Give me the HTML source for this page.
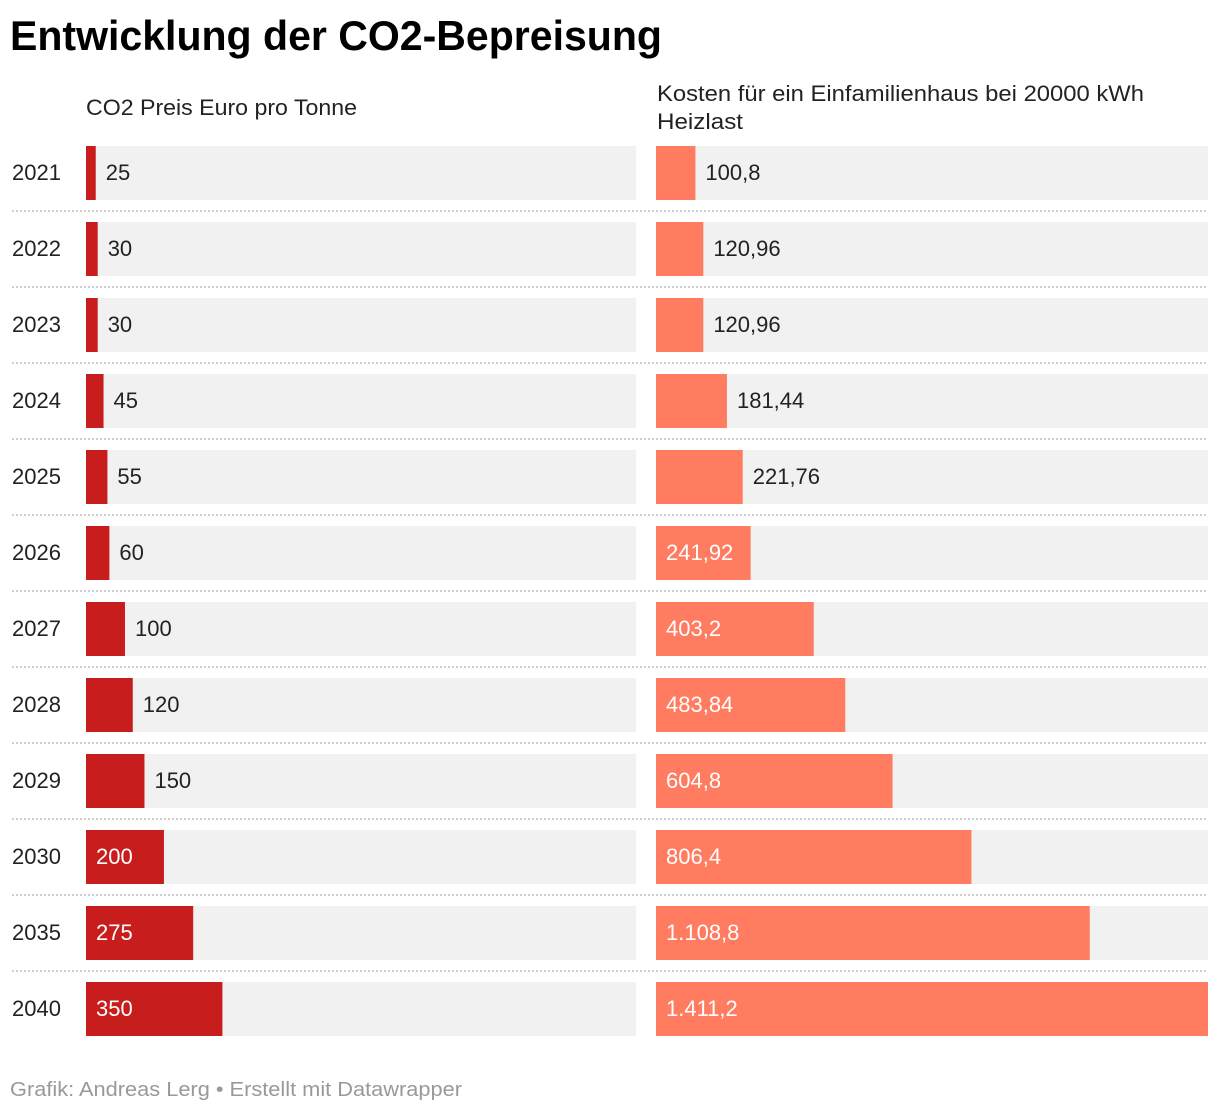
<!DOCTYPE html>
<html><head><meta charset="utf-8"><style>
body{margin:0;background:#fff;width:1220px;height:1112px;overflow:hidden}
svg{display:block;font-family:"Liberation Sans",Arial,sans-serif}
</style></head><body>
<svg id="chart" width="1220" height="1112">
<text x="10" y="50" font-size="42" font-weight="bold" fill="#000" textLength="652" lengthAdjust="spacingAndGlyphs">Entwicklung der CO2-Bepreisung</text>
<text x="86" y="115" font-size="22" fill="#222" textLength="271" lengthAdjust="spacingAndGlyphs">CO2 Preis Euro pro Tonne</text>
<text x="657" y="101" font-size="22" fill="#222" textLength="487" lengthAdjust="spacingAndGlyphs">Kosten für ein Einfamilienhaus bei 20000 kWh</text>
<text x="657" y="129" font-size="22" fill="#222" textLength="86" lengthAdjust="spacingAndGlyphs">Heizlast</text>
<text x="10" y="1096" font-size="20" fill="#999" textLength="452" lengthAdjust="spacingAndGlyphs">Grafik: Andreas Lerg • Erstellt mit Datawrapper</text>
<g id="rows"></g>
</svg>
<script>
const years = ["2021","2022","2023","2024","2025","2026","2027","2028","2029","2030","2035","2040"];
const co2Price = [25,30,30,45,55,60,100,120,150,200,275,350];
const houseCost = [100.8,120.96,120.96,181.44,221.76,241.92,403.2,483.84,604.8,806.4,1108.8,1411.2];
const priceLabels = ["25","30","30","45","55","60","100","120","150","200","275","350"];
const costLabels = ["100,8","120,96","120,96","181,44","221,76","241,92","403,2","483,84","604,8","806,4","1.108,8","1.411,2"];

const NS = "http://www.w3.org/2000/svg";
const g = document.getElementById('rows');
const maxV = 1411.2;
const rowY = i => 146 + i * 76;
const BH = 54;
const cv = document.createElement('canvas').getContext('2d');
cv.font = '22px "Liberation Sans", Arial, sans-serif';
function mk(tag, attrs){const e=document.createElementNS(NS,tag);for(const k in attrs)e.setAttribute(k,attrs[k]);g.appendChild(e);return e;}
function column(x0, w, vals, labels, color, key, i){
  const y = rowY(i);
  const bg = mk('rect',{x:x0,y:y,width:w,height:BH,fill:'#f1f1f1'});
  
  
  const bw = vals[i] / maxV * w;
  const r = mk('rect',{x:x0,y:y,width:bw,height:BH,fill:color});
  
  
  const tw = cv.measureText(labels[i]).width;
  const inside = bw >= tw + 22;
  const t = mk('text',{x: inside ? x0+10 : x0+bw+10, y:y+34, 'font-size':22, fill: inside?'#fff':'#222'});
  t.textContent = labels[i];
  
  
}
years.forEach((yr,i)=>{
  const y = rowY(i);
  const t = mk('text',{x:12,y:y+34,'font-size':22,fill:'#222'});
  t.textContent = yr;
  
  
  column(86,550,co2Price,priceLabels,'#c71e1d','co2-price',i);
  column(656,552,houseCost,costLabels,'#ff7c61','house-cost',i);
  if(i<years.length-1){
    const l = mk('line',{x1:12,x2:1208,y1:y+65,y2:y+65,stroke:'#cfcfcf','stroke-width':2,'stroke-dasharray':'2,2'});
    
    
  }
});
</script>
</body></html>
